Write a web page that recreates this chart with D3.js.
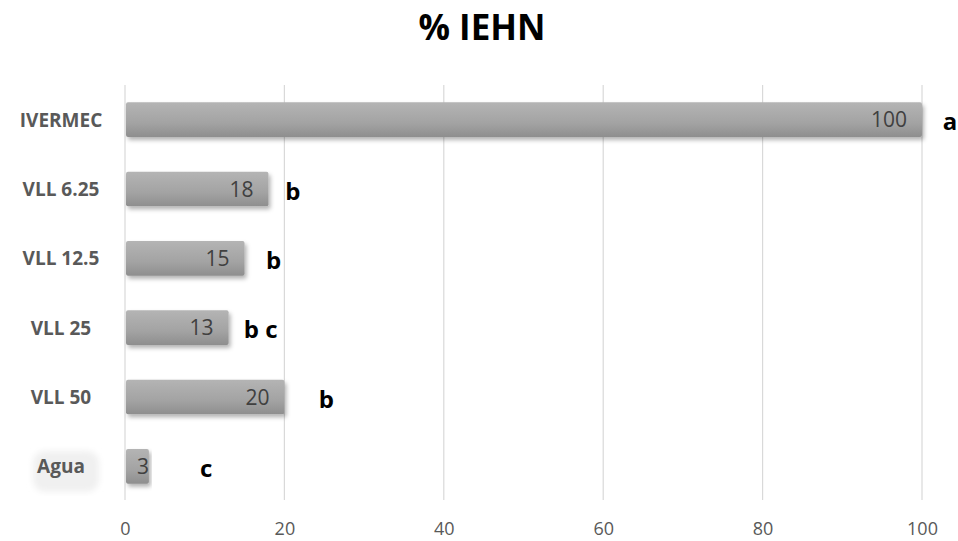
<!DOCTYPE html>
<html>
<head>
<meta charset="utf-8">
<script src="https://cdn.jsdelivr.net/npm/d3@7"></script>
<style>
  body { margin: 0; background: #fff; }
  svg { display: block; }
</style>
</head>
<body>
<svg id="chart" width="958" height="541"></svg>
<script>
// data
var categories = ["IVERMEC", "VLL 6.25", "VLL 12.5", "VLL 25", "VLL 50", "Agua"];
var values = [100, 18, 15, 13, 20, 3];
var letters = ["a", "b", "b", "b c", "b", "c"];
// where the significance letters sit, in % units
var letterAt = [102.6, 20.1, 17.7, 14.9, 24.3, 9.4];
var ticks = [0, 20, 40, 60, 80, 100];

var svg = d3.select("#chart");

var x = d3.scaleLinear().domain([0, 100]).range([125, 922]);
var y = d3.scaleBand().domain(categories).range([85, 501]).paddingInner(0.5).paddingOuter(0.25);

var defs = svg.append("defs");
var grad = defs.append("linearGradient")
    .attr("id", "barGrad").attr("x1", 0).attr("y1", 0).attr("x2", 0).attr("y2", 1);
grad.append("stop").attr("offset", "0%").attr("stop-color", "#b4b4b4");
grad.append("stop").attr("offset", "60%").attr("stop-color", "#a3a3a3");
grad.append("stop").attr("offset", "100%").attr("stop-color", "#8e8e8e");

var shadow = defs.append("filter").attr("id", "shadow")
    .attr("x", "-5%").attr("y", "-30%").attr("width", "115%").attr("height", "180%");
shadow.append("feDropShadow")
    .attr("dx", 2).attr("dy", 3).attr("stdDeviation", 2)
    .attr("flood-color", "#000").attr("flood-opacity", 0.3);

var blur = defs.append("filter").attr("id", "soft");
blur.append("feGaussianBlur").attr("stdDeviation", 3);

// title
svg.append("text")
    .attr("x", 482).attr("y", 40)
    .attr("text-anchor", "middle")
    .style("font-family", "'Open Sans', sans-serif")
    .style("font-weight", "bold")
    .style("font-size", "35px")
    .style("fill", "#000")
    .text("% IEHN");

// gridlines
svg.append("g").selectAll("line").data(ticks).enter().append("line")
    .attr("x1", function (d) { return x(d); })
    .attr("x2", function (d) { return x(d); })
    .attr("y1", 85).attr("y2", 500)
    .style("stroke", "#d9d9d9").style("stroke-width", 1.2);

// x axis labels
var xAxis = d3.axisBottom(x).tickValues(ticks).tickSize(0).tickPadding(0);
var gx = svg.append("g").attr("transform", "translate(0,522)").call(xAxis);
gx.select(".domain").remove();
gx.selectAll("text")
    .style("font-family", "'Open Sans', sans-serif")
    .style("font-size", "18px")
    .style("fill", "#595959");

// bars
var rows = categories.map(function (c, i) {
    return { cat: c, val: values[i], letter: letters[i], lx: letterAt[i] };
});

svg.append("g").selectAll("rect").data(rows).enter().append("rect")
    .attr("x", x(0) + 1)
    .attr("y", function (d) { return y(d.cat); })
    .attr("width", function (d) { return x(d.val) - x(0) - 1; })
    .attr("height", y.bandwidth())
    .attr("rx", 2)
    .style("fill", "url(#barGrad)")
    .attr("filter", "url(#shadow)");

// values inside bar ends
svg.append("g").selectAll("text").data(rows).enter().append("text")
    .attr("x", function (d) { return x(d.val) - (d.val < 5 ? 0 : 15); })
    .attr("y", function (d) { return y(d.cat) + y.bandwidth() / 2; })
    .attr("dy", "0.36em")
    .attr("text-anchor", "end")
    .style("font-family", "'Open Sans', sans-serif")
    .style("font-size", "21px")
    .style("fill", "#404040")
    .text(function (d) { return d.val; });

// faint patch behind the last label, as in the source image
var last = categories[categories.length - 1];
svg.append("rect")
    .attr("x", 33).attr("y", y(last) + 2)
    .attr("width", 66).attr("height", y.bandwidth() + 6)
    .attr("rx", 12)
    .style("fill", "#f0f0f0")
    .attr("filter", "url(#soft)");

// category labels
svg.append("g").selectAll("text").data(rows).enter().append("text")
    .attr("x", 61)
    .attr("y", function (d) { return y(d.cat) + y.bandwidth() / 2; })
    .attr("dy", "0.36em")
    .attr("text-anchor", "middle")
    .style("font-family", "'Open Sans', sans-serif")
    .style("font-weight", "bold")
    .style("font-size", "19px")
    .style("fill", "#595959")
    .text(function (d) { return d.cat; });

// significance letters
svg.append("g").selectAll("text").data(rows).enter().append("text")
    .attr("x", function (d) { return x(d.lx); })
    .attr("y", function (d) { return y(d.cat) + y.bandwidth() / 2 + 2; })
    .attr("dy", "0.36em")
    .style("font-family", "'Open Sans', sans-serif")
    .style("font-weight", "bold")
    .style("font-size", "24px")
    .style("fill", "#000")
    .text(function (d) { return d.letter; });
</script>
</body>
</html>
